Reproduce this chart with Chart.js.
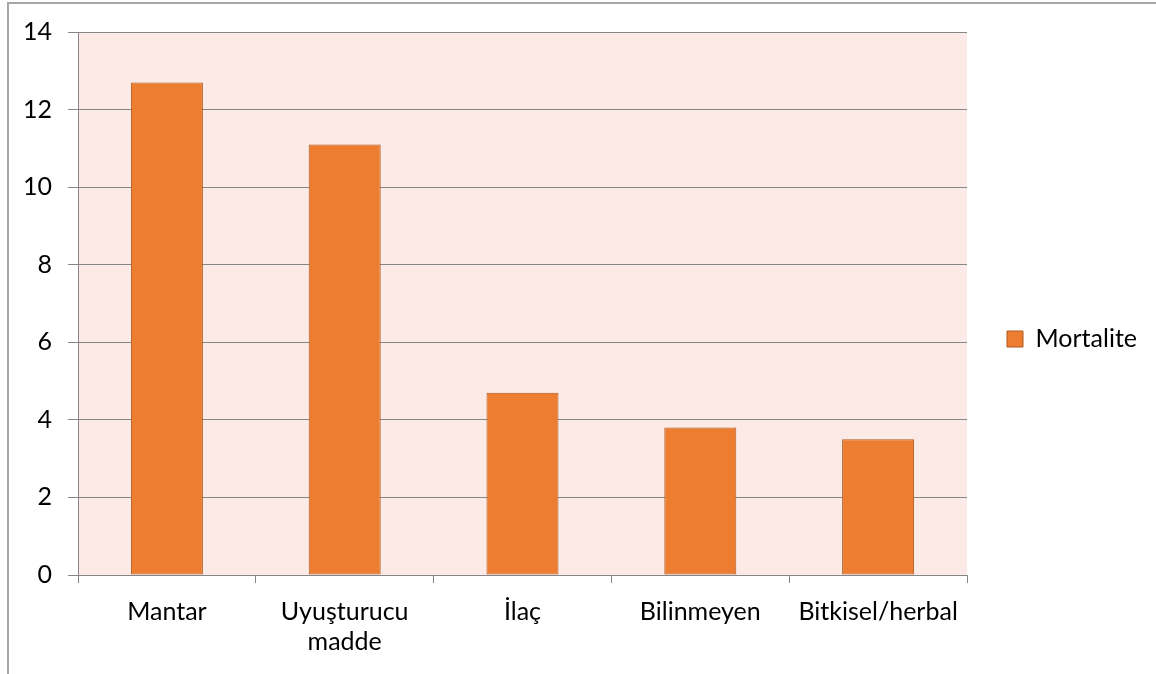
<!DOCTYPE html>
<html>
<head>
<meta charset="utf-8">
<script src="https://cdn.jsdelivr.net/npm/chart.js@4"></script>
<style>
  html, body { margin: 0; padding: 0; background: #fff; overflow: hidden; }
  #wrap { position: relative; width: 1156px; height: 674px; }
  #frame { position: absolute; left: 7px; top: 2px; width: 1200px; height: 700px;
           border-top: 2px solid #a6a6a6; border-left: 2px solid #a6a6a6; }
  canvas { position: absolute; left: 0; top: 0; }
</style>
</head>
<body>
<div id="wrap">
  <div id="frame"></div>
  <canvas id="chart"></canvas>
</div>
<script>
(async function () {
  // Data
  const categories = ['Mantar', ['Uyuşturucu', 'madde'], 'İlaç', 'Bilinmeyen', 'Bitkisel/herbal'];
  const mortalite = [12.7, 11.1, 4.7, 3.8, 3.5];
  const yTicks = [0, 2, 4, 6, 8, 10, 12, 14];

  const font = { family: 'Lato, "Open Sans", sans-serif', size: 25 };

  // pink plot background
  const plotBg = {
    id: 'plotBg',
    beforeDraw(chart) {
      const a = chart.chartArea, ctx = chart.ctx;
      ctx.save();
      ctx.fillStyle = '#fbeae6';
      ctx.fillRect(a.left, a.top, a.right - a.left, a.bottom - a.top);
      ctx.restore();
    }
  };

  // fixed legend width so the plot ends where it does in the picture,
  // and lift the legend a little to sit where the reference has it
  const legendPlace = {
    id: 'legendPlace',
    afterInit(chart) {
      const lg = chart.legend;
      if (!lg) return;
      const fit = lg.fit;
      lg.fit = function () { fit.call(this); this.width = 189; };
    },
    afterLayout(chart) {
      const lg = chart.legend;
      if (lg) lg.bottom -= 28;
    }
  };

  new Chart(document.getElementById('chart'), {
    type: 'bar',
    data: {
      labels: categories,
      datasets: [{
        label: 'Mortalite',
        data: mortalite,
        backgroundColor: '#ed7d31',
        borderColor: '#ae5a21',
        borderWidth: 1,
        borderSkipped: false,
        categoryPercentage: 1,
        barPercentage: 0.405
      }]
    },
    plugins: [plotBg, legendPlace],
    options: {
      responsive: true,
      maintainAspectRatio: false,
      animation: false,
      layout: { padding: { top: 32, left: 0, right: 0, bottom: 0 } },
      plugins: {
        tooltip: { enabled: false },
        legend: {
          position: 'right',
          labels: {
            color: '#000',
            font: font,
            boxWidth: 16,
            boxHeight: 16,
            padding: 40
          }
        }
      },
      scales: {
        x: {
          offset: true,
          grid: {
            offset: true,
            drawOnChartArea: false,
            drawTicks: true,
            tickLength: 8,
            color: '#868686'
          },
          border: { color: '#868686', width: 1 },
          ticks: { color: '#000', font: font, padding: 14, maxRotation: 0, autoSkip: false },
          afterFit(scale) { scale.height = 99; }
        },
        y: {
          min: 0,
          max: 14,
          afterBuildTicks(scale) { scale.ticks = yTicks.map(v => ({ value: v })); },
          grid: { color: '#868686', tickLength: 10, drawTicks: true },
          border: { color: '#868686', width: 1 },
          ticks: { color: '#000', font: font, padding: 16 },
          afterFit(scale) { scale.width = 78; }
        }
      }
    }
  });
})();
</script>
</body>
</html>
